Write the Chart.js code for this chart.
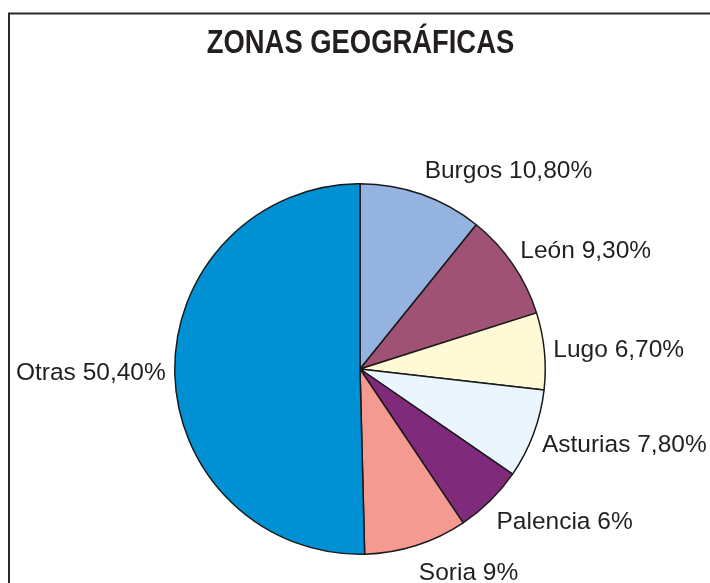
<!DOCTYPE html>
<html><head><meta charset="utf-8">
<script src="https://cdn.jsdelivr.net/npm/chart.js@4"></script>
<style>html,body{margin:0;padding:0;background:#fff;}#wrap{width:710px;height:583px;position:relative;}</style>
</head><body><div id="wrap"><canvas id="c" width="710" height="583"></canvas></div>
<script>
const titleText = 'ZONAS GEOGRÁFICAS';
const categories = ['Burgos', 'León', 'Lugo', 'Asturias', 'Palencia', 'Soria', 'Otras'];
const values = [10.8, 9.3, 6.7, 7.8, 6, 9, 50.4];
const valueLabels = ['10,80%', '9,30%', '6,70%', '7,80%', '6%', '9%', '50,40%'];
const colors = ['#95b3e0', '#a05275', '#fffad5', '#eaf5fd', '#7f2a7a', '#f59a90', '#0091d5'];

const framePlugin = {
  id: 'frame',
  beforeDraw(chart) {
    const ctx = chart.ctx;
    ctx.save();
    ctx.fillStyle = '#fff';
    ctx.fillRect(0, 0, chart.width, chart.height);
    ctx.strokeStyle = '#2a2a2a';
    ctx.lineWidth = 2;
    ctx.beginPath();
    ctx.moveTo(9, chart.height + 5);
    ctx.lineTo(9, 13.5);
    ctx.lineTo(chart.width + 5, 13.5);
    ctx.stroke();
    // title
    ctx.fillStyle = '#231f20';
    ctx.font = 'bold 33px "Liberation Sans", Arial, sans-serif';
    ctx.textAlign = 'center';
    ctx.textBaseline = 'alphabetic';
    ctx.translate(360.5, 53);
    ctx.scale(0.83, 1);
    ctx.fillText(titleText, 0, 0);
    ctx.restore();
  }
};

const labelPlugin = {
  id: 'sliceLabels',
  afterDatasetsDraw(chart) {
    const ctx = chart.ctx;
    const meta = chart.getDatasetMeta(0);
    ctx.save();
    ctx.fillStyle = '#231f20';
    ctx.font = '24.5px "Liberation Sans", Arial, sans-serif';
    ctx.textBaseline = 'middle';
    meta.data.forEach((arc, i) => {
      const p = arc.getProps(['x', 'y', 'startAngle', 'endAngle', 'outerRadius'], true);
      const mid = (p.startAngle + p.endAngle) / 2;
      const ax = p.x + Math.cos(mid) * (p.outerRadius + 9);
      const ay = p.y + Math.sin(mid) * (p.outerRadius + 12);
      const yoff = Math.sin(mid) * 15 + 2;
      const txt = categories[i] + ' ' + valueLabels[i];
      ctx.textAlign = Math.cos(mid) >= 0 ? 'left' : 'right';
      ctx.fillText(txt, ax, ay + yoff);
    });
    ctx.restore();
  }
};

new Chart(document.getElementById('c'), {
  type: 'pie',
  data: {
    labels: categories,
    datasets: [{
      data: values,
      backgroundColor: colors,
      borderColor: '#1a1a1a',
      borderWidth: 1.5
    }]
  },
  options: {
    responsive: false,
    animation: false,
    layout: { padding: { top: 183, bottom: 28, left: 174, right: 164 } },
    plugins: { legend: { display: false }, tooltip: { enabled: false }, title: { display: false } }
  },
  plugins: [framePlugin, labelPlugin]
});
</script></body></html>
